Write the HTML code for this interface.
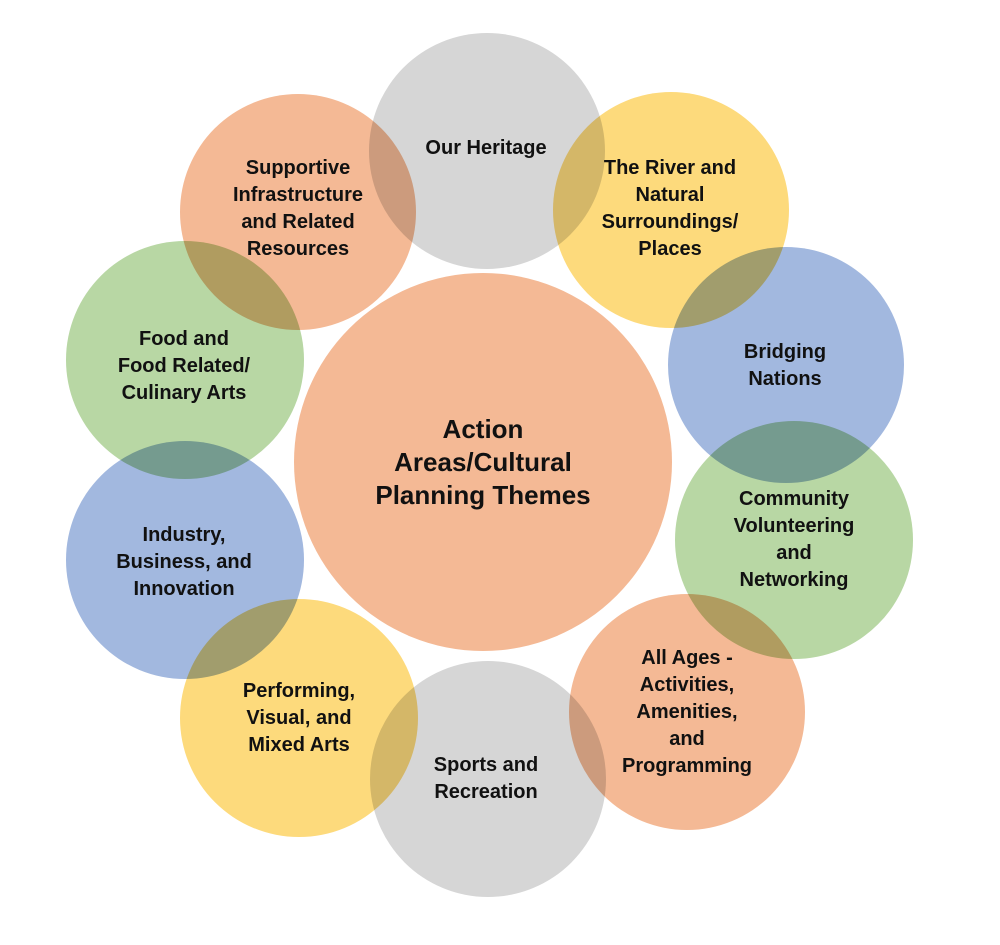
<!DOCTYPE html>
<html><head><meta charset="utf-8"><style>
html,body{margin:0;padding:0;background:#fff;}
svg{display:block;}
circle{mix-blend-mode:multiply;}
text{font-family:"Liberation Sans",sans-serif;font-weight:bold;fill:#111;text-anchor:middle;font-size:20px;}
text.big{font-size:26px;}
</style></head><body>
<svg width="1000" height="945" viewBox="0 0 1000 945" style="isolation:isolate">
<circle cx="483" cy="462" r="189" fill="#f4b995"/>
<circle cx="487" cy="151" r="118" fill="#d6d6d6"/>
<circle cx="671" cy="210" r="118" fill="#fdda7c"/>
<circle cx="786" cy="365" r="118" fill="#a2b8df"/>
<circle cx="794" cy="540" r="119" fill="#b8d7a4"/>
<circle cx="687" cy="712" r="118" fill="#f4b995"/>
<circle cx="488" cy="779" r="118" fill="#d6d6d6"/>
<circle cx="299" cy="718" r="119" fill="#fdda7c"/>
<circle cx="185" cy="560" r="119" fill="#a2b8df"/>
<circle cx="185" cy="360" r="119" fill="#b8d7a4"/>
<circle cx="298" cy="212" r="118" fill="#f4b995"/>

<text class="big" x="483" y="438">Action</text>
<text class="big" x="483" y="471">Areas/Cultural</text>
<text class="big" x="483" y="504">Planning Themes</text>

<text x="486" y="154">Our Heritage</text>

<text x="670" y="174">The River and</text>
<text x="670" y="201">Natural</text>
<text x="670" y="228">Surroundings/</text>
<text x="670" y="255">Places</text>

<text x="785" y="358">Bridging</text>
<text x="785" y="385">Nations</text>

<text x="794" y="505">Community</text>
<text x="794" y="532">Volunteering</text>
<text x="794" y="559">and</text>
<text x="794" y="586">Networking</text>

<text x="687" y="664">All Ages -</text>
<text x="687" y="691">Activities,</text>
<text x="687" y="718">Amenities,</text>
<text x="687" y="745">and</text>
<text x="687" y="772">Programming</text>

<text x="486" y="771">Sports and</text>
<text x="486" y="798">Recreation</text>

<text x="299" y="697">Performing,</text>
<text x="299" y="724">Visual, and</text>
<text x="299" y="751">Mixed Arts</text>

<text x="184" y="541">Industry,</text>
<text x="184" y="568">Business, and</text>
<text x="184" y="595">Innovation</text>

<text x="184" y="345">Food and</text>
<text x="184" y="372">Food Related/</text>
<text x="184" y="399">Culinary Arts</text>

<text x="298" y="174">Supportive</text>
<text x="298" y="201">Infrastructure</text>
<text x="298" y="228">and Related</text>
<text x="298" y="255">Resources</text>
</svg>
</body></html>
